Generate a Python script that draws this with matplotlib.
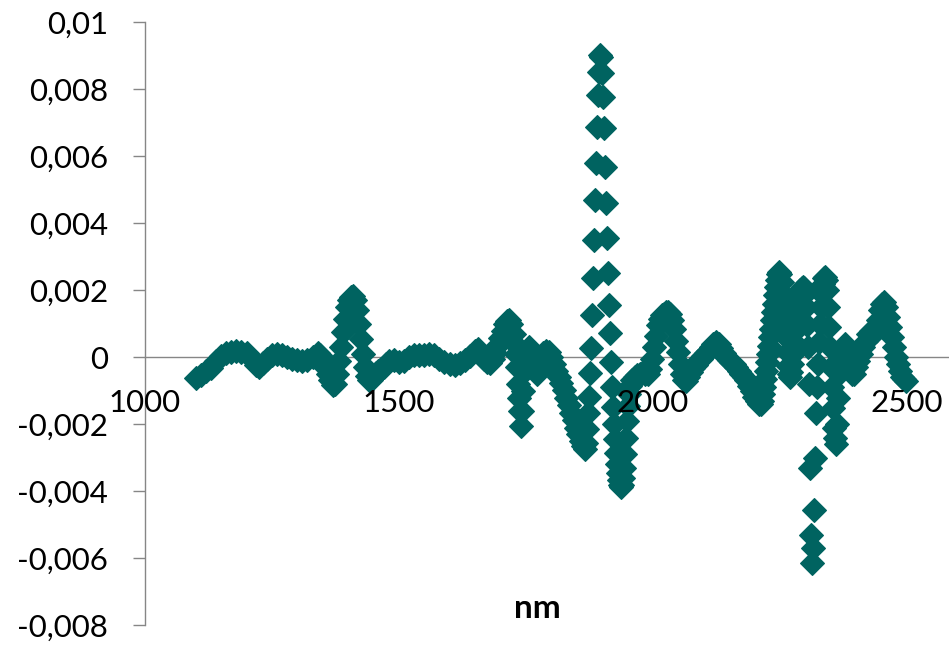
import matplotlib
matplotlib.use("Agg")
import matplotlib.pyplot as plt
from matplotlib.ticker import FuncFormatter

plt.rcParams['font.family'] = ['Lato', 'DejaVu Sans']

# wavelength (nm) and derivative values
wavelength = [
    1100, 1110, 1120, 1130, 1140, 1150, 1160, 1170, 1180, 1190,
    1200, 1210, 1218, 1224, 1232, 1240, 1250, 1260, 1270, 1280,
    1290, 1300, 1310, 1320, 1330, 1340, 1345, 1350, 1355, 1360,
    1365, 1370, 1374, 1378, 1382, 1386, 1390, 1394, 1398, 1402,
    1406, 1410, 1414, 1418, 1422, 1426, 1430, 1434, 1438, 1442,
    1446, 1450, 1455, 1460, 1465, 1470, 1475, 1480, 1490, 1500,
    1510, 1520, 1530, 1540, 1550, 1560, 1570, 1580, 1590, 1600,
    1610, 1620, 1630, 1640, 1650, 1656, 1662, 1668, 1674, 1680,
    1685, 1690, 1695, 1700, 1705, 1710, 1714, 1718, 1722, 1726,
    1728, 1730, 1732, 1734, 1736, 1738, 1740, 1742, 1744, 1746,
    1748, 1752, 1756, 1760, 1764, 1768, 1772, 1776, 1780, 1785,
    1790, 1795, 1800, 1805, 1810, 1815, 1820, 1825, 1830, 1835,
    1840, 1845, 1850, 1854, 1858, 1862, 1866, 1868, 1870, 1872,
    1874, 1876, 1878, 1880, 1882, 1884, 1886, 1888, 1890, 1892,
    1894, 1896, 1898, 1900, 1902, 1904, 1906, 1908, 1910, 1912,
    1914, 1916, 1918, 1920, 1922, 1924, 1926, 1928, 1930, 1932,
    1934, 1936, 1938, 1940, 1942, 1944, 1946, 1948, 1950, 1952,
    1954, 1956, 1960, 1965, 1970, 1975, 1980, 1985, 1990, 1994,
    1998, 2002, 2006, 2010, 2014, 2018, 2022, 2026, 2030, 2034,
    2038, 2042, 2046, 2050, 2054, 2058, 2062, 2066, 2070, 2075,
    2080, 2085, 2090, 2095, 2100, 2105, 2110, 2115, 2120, 2125,
    2130, 2135, 2140, 2145, 2150, 2155, 2160, 2165, 2170, 2175,
    2180, 2185, 2190, 2195, 2200, 2205, 2210, 2214, 2216, 2218,
    2220, 2222, 2224, 2226, 2228, 2230, 2232, 2234, 2236, 2238,
    2240, 2242, 2244, 2246, 2248, 2250, 2252, 2254, 2256, 2258,
    2260, 2262, 2264, 2266, 2268, 2270, 2272, 2274, 2276, 2278,
    2280, 2282, 2284, 2286, 2288, 2290, 2294, 2296, 2298, 2300,
    2302, 2304, 2306, 2308, 2310, 2312, 2314, 2316, 2318, 2320,
    2322, 2324, 2326, 2328, 2330, 2332, 2334, 2336, 2338, 2340,
    2342, 2344, 2346, 2348, 2350, 2352, 2354, 2356, 2358, 2360,
    2362, 2364, 2366, 2368, 2370, 2376, 2380, 2384, 2388, 2392,
    2396, 2400, 2405, 2410, 2415, 2420, 2425, 2430, 2435, 2440,
    2444, 2448, 2452, 2456, 2460, 2464, 2468, 2472, 2476, 2480,
    2484, 2488, 2492, 2496, 2500,
]
deriv = [
    -0.00062, -0.00052, -0.00042, -0.00032, -0.00010, 0.00005, 0.00012, 0.00015, 0.00018, 0.00016,
    0.00012, -0.00005, -0.00022, -0.00030, -0.00018, -0.00005, 0.00006, 0.00010, 0.00006, 0.00000,
    -0.00006, -0.00008, -0.00010, -0.00008, 0.00002, 0.00012, 0.00008, -0.00010, -0.00030, -0.00050,
    -0.00068, -0.00082, -0.00080, -0.00050, -0.00010, 0.00030, 0.00075, 0.00115, 0.00150, 0.00170,
    0.00180, 0.00182, 0.00170, 0.00140, 0.00100, 0.00055, 0.00010, -0.00030, -0.00055, -0.00068,
    -0.00068, -0.00060, -0.00048, -0.00040, -0.00036, -0.00030, -0.00020, -0.00012, -0.00008, -0.00014,
    -0.00010, 0.00000, 0.00006, 0.00006, 0.00008, 0.00010, 0.00006, -0.00004, -0.00014, -0.00020,
    -0.00022, -0.00016, -0.00008, 0.00004, 0.00018, 0.00024, 0.00012, -0.00004, -0.00014, -0.00016,
    -0.00004, 0.00014, 0.00036, 0.00058, 0.00080, 0.00098, 0.00108, 0.00112, 0.00100, 0.00070,
    0.00040, 0.00010, -0.00030, -0.00080, -0.00120, -0.00160, -0.00205, -0.00160, -0.00100, -0.00045,
    -0.00005, 0.00020, 0.00030, 0.00022, 0.00000, -0.00030, -0.00050, -0.00035, -0.00010, 0.00012,
    0.00020, 0.00016, 0.00000, -0.00020, -0.00040, -0.00058, -0.00078, -0.00098, -0.00120, -0.00142,
    -0.00165, -0.00188, -0.00210, -0.00230, -0.00250, -0.00265, -0.00275, -0.00255, -0.00215, -0.00165,
    -0.00118, -0.00048, 0.00027, 0.00127, 0.00236, 0.00351, 0.00470, 0.00579, 0.00688, 0.00782,
    0.00853, 0.00902, 0.00897, 0.00848, 0.00778, 0.00684, 0.00569, 0.00460, 0.00355, 0.00251,
    0.00156, 0.00072, -0.00013, -0.00088, -0.00147, -0.00200, -0.00245, -0.00285, -0.00318, -0.00345,
    -0.00365, -0.00380, -0.00386, -0.00380, -0.00360, -0.00330, -0.00290, -0.00240, -0.00190, -0.00145,
    -0.00110, -0.00085, -0.00068, -0.00058, -0.00052, -0.00050, -0.00048, -0.00050, -0.00050, -0.00035,
    -0.00005, 0.00030, 0.00065, 0.00095, 0.00115, 0.00125, 0.00130, 0.00134, 0.00135, 0.00128,
    0.00110, 0.00085, 0.00050, 0.00015, -0.00020, -0.00050, -0.00068, -0.00070, -0.00060, -0.00045,
    -0.00032, -0.00022, -0.00012, -0.00005, 0.00004, 0.00012, 0.00020, 0.00030, 0.00040, 0.00046,
    0.00040, 0.00028, 0.00014, 0.00002, -0.00008, -0.00014, -0.00020, -0.00030, -0.00040, -0.00050,
    -0.00058, -0.00068, -0.00085, -0.00102, -0.00118, -0.00130, -0.00138, -0.00140, -0.00130, -0.00110,
    -0.00088, -0.00065, -0.00040, -0.00015, 0.00010, 0.00035, 0.00060, 0.00085, 0.00110, 0.00135,
    0.00160, 0.00185, 0.00210, 0.00232, 0.00248, 0.00255, 0.00250, 0.00225, 0.00190, 0.00150,
    0.00105, 0.00060, 0.00015, -0.00025, -0.00050, -0.00058, -0.00045, -0.00020, 0.00010, 0.00045,
    0.00080, 0.00115, 0.00145, 0.00170, 0.00188, 0.00200, 0.00208, 0.00210, 0.00208, 0.00190,
    0.00150, 0.00095, 0.00030, -0.00080, -0.00330, -0.00530, -0.00615, -0.00570, -0.00455, -0.00300,
    -0.00165, -0.00090, -0.00020, 0.00045, 0.00100, 0.00150, 0.00190, 0.00220, 0.00236, 0.00240,
    0.00230, 0.00200, 0.00150, 0.00090, 0.00030, -0.00030, -0.00090, -0.00150, -0.00210, -0.00240,
    -0.00260, -0.00200, -0.00120, -0.00050, 0.00000, 0.00030, 0.00040, 0.00020, -0.00020, -0.00050,
    -0.00050, -0.00030, -0.00010, 0.00010, 0.00030, 0.00050, 0.00070, 0.00080, 0.00070, 0.00080,
    0.00110, 0.00140, 0.00160, 0.00165, 0.00150, 0.00120, 0.00090, 0.00060, 0.00030, 0.00000,
    -0.00020, -0.00040, -0.00060, -0.00065, -0.00070,
]

yticks = [-0.008, -0.006, -0.004, -0.002, 0, 0.002, 0.004, 0.006, 0.008, 0.01]
xticks = [1000, 1500, 2000, 2500]

teal = '#006360'
grey = '#868686'

fig = plt.figure(figsize=(9.49, 6.49), dpi=100)
ax = fig.add_axes([0.1528, 0.0365, 0.8472, 0.9291])

ax.plot(wavelength, deriv, linestyle='none', marker='D', markersize=12,
        markerfacecolor=teal, markeredgecolor=teal, markeredgewidth=0.8, zorder=2)

ax.set_xlim(1000, 2584)
ax.set_ylim(-0.008, 0.01)
ax.set_xticks(xticks)
ax.set_yticks(yticks)


def comma_fmt(v, pos):
    return f"{round(v, 6):g}".replace('.', ',')


ax.yaxis.set_major_formatter(FuncFormatter(comma_fmt))

for s in ['top', 'right']:
    ax.spines[s].set_visible(False)
ax.spines['bottom'].set_position(('data', 0))
for s in ['left', 'bottom']:
    ax.spines[s].set_color(grey)
    ax.spines[s].set_linewidth(1.0)
    ax.spines[s].set_zorder(1.5)

ax.tick_params(axis='y', direction='out', length=8.5, width=1.0, color=grey,
               pad=18, labelsize=22.5)
ax.tick_params(axis='x', length=0, pad=23, labelsize=22.5)
ax.xaxis.set_zorder(3)
ax.yaxis.set_zorder(3)

fig.text(537 / 949, 1 - 618 / 649, 'nm', ha='center', va='baseline',
         fontsize=24, fontweight='bold')

fig.savefig('out.png', dpi=100)
